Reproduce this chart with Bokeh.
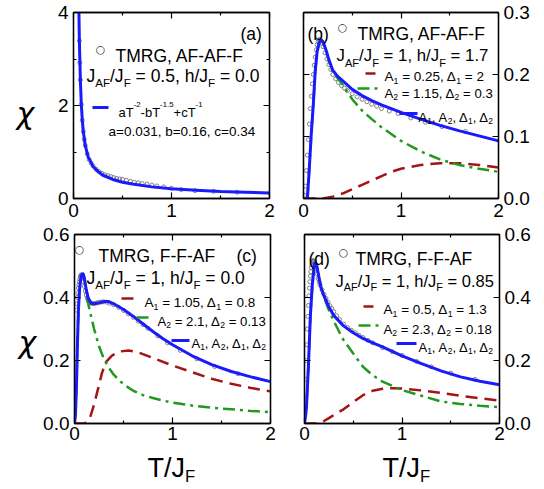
from bokeh.plotting import figure
from bokeh.models import (Range1d, LinearAxis, FixedTicker, Label, Arrow, CustomJSTickFormatter)
from bokeh.layouts import column, row
from bokeh.embed import file_html
from bokeh.resources import INLINE

FONT = "Liberation Sans"

# ---------------- data ----------------
x_ticks = [0, 1, 2]
x_minor = [0.5, 1.5]
x_tick_labels = ["0", "1", "2"]

ya_ticks = [0, 2, 4]
ya_minor = [1, 3]
ya_tick_labels = ["0", "2", "4"]
yb_ticks = [0, 0.1, 0.2, 0.3]
yb_tick_labels = ["0.0", "0.1", "0.2", "0.3"]
ycd_ticks = [0, 0.2, 0.4, 0.6]
ycd_tick_labels = ["0.0", "0.2", "0.4", "0.6"]

# panel (a)
T_tmrg_a = [0.05, 0.055, 0.06, 0.065, 0.07, 0.08, 0.09, 0.10, 0.11, 0.12, 0.14, 0.16, 0.18, 0.20,
            0.23, 0.26, 0.29, 0.32, 0.35, 0.38, 0.41, 0.44, 0.47, 0.50, 0.54, 0.58, 0.62, 0.66,
            0.70, 0.75, 0.80, 0.85, 0.92, 1.00, 1.10, 1.24, 1.43, 1.67, 2.0]
chi_tmrg_a = [4.9, 4.03, 3.39, 2.92, 2.55, 2.02, 1.68, 1.44, 1.27, 1.14, 0.96, 0.84, 0.76, 0.70,
              0.63, 0.58, 0.54, 0.51, 0.49, 0.47, 0.45, 0.43, 0.42, 0.41, 0.39, 0.37, 0.35, 0.34,
              0.32, 0.31, 0.29, 0.27, 0.25, 0.22, 0.19, 0.17, 0.155, 0.135, 0.12]
T_fit_a = [0.05, 0.055, 0.06, 0.07, 0.08, 0.09, 0.10, 0.12, 0.15, 0.20, 0.25, 0.30, 0.40, 0.50,
           0.60, 0.80, 1.00, 1.25, 1.50, 1.75, 2.00]
chi_fit_a = [4.9, 4.03, 3.39, 2.55, 2.02, 1.68, 1.44, 1.14, 0.89, 0.69, 0.58, 0.50, 0.41, 0.35,
             0.31, 0.25, 0.21, 0.18, 0.15, 0.135, 0.12]

# panel (b)
T_tmrg_b = [0.01, 0.02, 0.03, 0.04, 0.05, 0.06, 0.07, 0.08, 0.09, 0.10, 0.11, 0.12, 0.13, 0.14,
            0.15, 0.16, 0.17, 0.18, 0.19, 0.20, 0.22, 0.24, 0.26, 0.28, 0.30, 0.33, 0.36, 0.39,
            0.42, 0.45, 0.50, 0.55, 0.60, 0.65, 0.70, 0.75, 0.80, 0.88, 0.97, 1.10, 1.25, 1.42, 1.66]
chi_tmrg_b = [0.005, 0.02, 0.045, 0.07, 0.095, 0.12, 0.145, 0.165, 0.185, 0.20, 0.215, 0.228, 0.24,
              0.248, 0.253, 0.256, 0.256, 0.254, 0.25, 0.245, 0.235, 0.225, 0.216, 0.208, 0.20,
              0.193, 0.187, 0.182, 0.178, 0.174, 0.169, 0.164, 0.16, 0.156, 0.152, 0.149, 0.145,
              0.141, 0.137, 0.13, 0.123, 0.116, 0.108]
T_fit_b = [0.03, 0.04, 0.06, 0.08, 0.10, 0.12, 0.14, 0.16, 0.18, 0.20, 0.23, 0.26, 0.30, 0.35,
           0.40, 0.50, 0.60, 0.70, 0.80, 1.00, 1.20, 1.40, 1.60, 1.80, 2.00]
chi_fit_b = [0.0, 0.0, 0.05, 0.105, 0.15, 0.205, 0.237, 0.251, 0.256, 0.253, 0.24, 0.224, 0.207,
             0.197, 0.19, 0.176, 0.166, 0.158, 0.151, 0.139, 0.128, 0.118, 0.109, 0.101, 0.093]
chi_A2_b = [0.0, 0.0, 0.05, 0.105, 0.15, 0.205, 0.237, 0.251, 0.256, 0.253, 0.24, 0.222, 0.204,
            0.194, 0.184, 0.16, 0.142, 0.128, 0.115, 0.093, 0.076, 0.063, 0.054, 0.048, 0.043]
T_A1_b = [0.0, 0.2, 0.3, 0.4, 0.5, 0.6, 0.7, 0.8, 0.9, 1.0, 1.2, 1.4, 1.6, 1.8, 2.0]
chi_A1_b = [0.0, 0.0, 0.003, 0.008, 0.015, 0.022, 0.029, 0.036, 0.043, 0.048, 0.054, 0.057, 0.057,
            0.054, 0.050]

# panel (c)
T_tmrg_c = [0.02, 0.025, 0.03, 0.035, 0.04, 0.045, 0.05, 0.055, 0.06, 0.065, 0.07, 0.075, 0.08,
            0.09, 0.10, 0.11, 0.12, 0.13, 0.14, 0.15, 0.16, 0.18, 0.20, 0.22, 0.24, 0.26, 0.28,
            0.30, 0.33, 0.36, 0.40, 0.45, 0.50, 0.55, 0.60, 0.65, 0.70, 0.75, 0.85, 0.95, 1.08,
            1.25, 1.43, 1.67]
chi_tmrg_c = [0.36, 0.38, 0.40, 0.415, 0.43, 0.44, 0.45, 0.458, 0.465, 0.47, 0.472, 0.47, 0.465,
              0.45, 0.435, 0.42, 0.408, 0.398, 0.39, 0.386, 0.383, 0.381, 0.381, 0.382, 0.384,
              0.385, 0.386, 0.386, 0.385, 0.382, 0.377, 0.369, 0.359, 0.348, 0.337, 0.325, 0.314,
              0.302, 0.278, 0.256, 0.232, 0.205, 0.181, 0.158]
T_fit_c = [0.0, 0.01, 0.02, 0.03, 0.04, 0.05, 0.06, 0.07, 0.08, 0.09, 0.10, 0.12, 0.14, 0.17,
           0.20, 0.25, 0.30, 0.35, 0.40, 0.50, 0.60, 0.70, 0.80, 0.90, 1.00, 1.20, 1.40, 1.60,
           1.80, 2.00]
chi_fit_c = [0.0, 0.03, 0.12, 0.25, 0.36, 0.42, 0.45, 0.468, 0.476, 0.474, 0.462, 0.425, 0.398,
             0.382, 0.38, 0.383, 0.387, 0.387, 0.38, 0.362, 0.34, 0.316, 0.292, 0.27, 0.25, 0.215,
             0.187, 0.165, 0.148, 0.133]
chi_A2_c = [0.0, 0.03, 0.12, 0.25, 0.36, 0.42, 0.45, 0.468, 0.476, 0.474, 0.46, 0.42, 0.38, 0.34,
            0.30, 0.245, 0.205, 0.177, 0.155, 0.124, 0.104, 0.09, 0.081, 0.073, 0.066, 0.057,
            0.05, 0.045, 0.04, 0.036]
T_A1_c = [0.0, 0.10, 0.13, 0.16, 0.20, 0.24, 0.28, 0.32, 0.38, 0.45, 0.55, 0.65, 0.80, 1.00, 1.20,
          1.40, 1.60, 1.80, 2.00]
chi_A1_c = [0.0, 0.0, 0.005, 0.02, 0.06, 0.11, 0.16, 0.195, 0.215, 0.228, 0.232, 0.226, 0.208,
            0.184, 0.163, 0.142, 0.126, 0.113, 0.102]

# panel (d)
T_tmrg_d = [0.005, 0.01, 0.015, 0.02, 0.025, 0.03, 0.035, 0.04, 0.045, 0.05, 0.055, 0.06, 0.065,
            0.07, 0.075, 0.08, 0.085, 0.09, 0.095, 0.10, 0.11, 0.12, 0.13, 0.14, 0.15, 0.16, 0.18,
            0.20, 0.22, 0.24, 0.26, 0.28, 0.30, 0.33, 0.36, 0.40, 0.44, 0.48, 0.52, 0.56, 0.60,
            0.65, 0.70, 0.80, 0.90, 1.00, 1.15, 1.30, 1.50, 1.75]
chi_tmrg_d = [0.03, 0.08, 0.14, 0.20, 0.25, 0.30, 0.34, 0.375, 0.405, 0.43, 0.45, 0.468, 0.482,
              0.495, 0.505, 0.512, 0.516, 0.517, 0.515, 0.51, 0.503, 0.49, 0.475, 0.46, 0.45,
              0.44, 0.425, 0.41, 0.397, 0.385, 0.374, 0.365, 0.355, 0.342, 0.33, 0.316, 0.305,
              0.296, 0.288, 0.28, 0.273, 0.264, 0.256, 0.241, 0.228, 0.216, 0.197, 0.18, 0.16, 0.14]
T_fit_d = [0.0, 0.02, 0.04, 0.06, 0.08, 0.10, 0.11, 0.12, 0.13, 0.15, 0.17, 0.20, 0.25, 0.30,
           0.40, 0.50, 0.60, 0.70, 0.80, 1.00, 1.20, 1.40, 1.60, 1.80, 2.00]
chi_fit_d = [0.0, 0.05, 0.18, 0.34, 0.44, 0.50, 0.51, 0.508, 0.495, 0.46, 0.43, 0.405, 0.37,
             0.343, 0.31, 0.288, 0.27, 0.256, 0.243, 0.215, 0.19, 0.167, 0.148, 0.134, 0.123]
chi_A2_d = [0.0, 0.05, 0.18, 0.34, 0.44, 0.50, 0.51, 0.508, 0.495, 0.46, 0.43, 0.40, 0.36, 0.325,
            0.265, 0.222, 0.18, 0.153, 0.133, 0.106, 0.088, 0.07, 0.062, 0.056, 0.052]
T_A1_d = [0.0, 0.10, 0.15, 0.20, 0.25, 0.30, 0.35, 0.40, 0.50, 0.60, 0.70, 0.80, 0.90, 1.00, 1.20,
          1.40, 1.60, 1.80, 2.00]
chi_A1_d = [0.0, 0.0, 0.002, 0.008, 0.017, 0.027, 0.036, 0.045, 0.068, 0.09, 0.104, 0.11, 0.112,
            0.111, 0.105, 0.097, 0.088, 0.08, 0.073]

# ---------------- styling ----------------
BLUE = "#1a1aff"
RED = "#a31515"
GREEN = "#1f9a1f"
GRAY = "#666666"
BIG = 17.5
SMALL = 13.5

W = {" ": 278, ",": 278, ".": 278, "/": 278, "-": 333, "(": 333, ")": 333, "+": 584, "=": 584,
     "A": 667, "F": 611, "G": 778, "J": 500, "M": 833, "R": 722, "T": 611, "a": 556, "b": 556,
     "c": 500, "d": 556, "h": 556, "\u0394": 640}


def tw(s, fs):
    return sum(W.get(ch, 556) for ch in s) * fs / 1000.0


def text(p, x, y, txt, fs, align="left", baseline="alphabetic", color="black", font=FONT,
         style="normal"):
    p.add_layout(Label(x=x, y=y, x_units="screen", y_units="screen", text=txt,
                       text_font=font, text_font_size=f"{fs:.1f}px", text_color=color,
                       text_baseline=baseline, text_align=align, text_font_style=style))


def rich(p, fh, dx, dy, parts, size, sub_off=0.3, sub_scale=0.65, sup_off=0.6, sup_scale=0.6):
    x = dx
    for txt, kind in parts:
        if kind == "sub":
            fs, off = size * sub_scale, -size * sub_off
        elif kind == "sup":
            fs, off = size * sup_scale, size * sup_off
        else:
            fs, off = size, 0
        lead = len(txt) - len(txt.lstrip(" "))
        core = txt.strip(" ")
        trail = len(txt) - lead - len(core)
        x += tw(" " * lead, fs)
        text(p, x, fh - dy + off, core, fs)
        x += tw(core + " " * trail, fs)


def sample(p, fh, x0, x1, dy, color, width, dash):
    p.add_layout(Arrow(end=None, x_start=x0, x_end=x1, y_start=fh - dy, y_end=fh - dy,
                       start_units="screen", end_units="screen", line_color=color,
                       line_width=width, line_dash=dash))


def tmrg_key(p, fh, cx, tx, tdy, label):
    text(p, cx, fh - tdy + 6.5, "\u25cb", 11, align="center", baseline="middle",
         color="#333333", font="DejaVu Sans")
    rich(p, fh, tx, tdy, [(label, "n")], BIG)


def style_axis(ax, show, standoff=5):
    ax.axis_line_width = 1.3
    ax.axis_line_color = "black"
    ax.major_tick_in = 6
    ax.major_tick_out = 0
    ax.minor_tick_in = 3
    ax.minor_tick_out = 0
    ax.major_tick_line_width = 1.2
    ax.minor_tick_line_width = 1.2
    ax.major_tick_line_color = "black"
    ax.minor_tick_line_color = "black"
    ax.major_label_text_font = FONT
    ax.major_label_text_font_size = "19px"
    ax.major_label_text_color = "black"
    ax.major_label_standoff = standoff
    if not show:
        ax.formatter = CustomJSTickFormatter(code="return ''")
        ax.major_label_standoff = 0


def panel(ymax, fw, fh, bl, br, bt, bb, yt, ylab, ymin_t, yside, xstand):
    p = figure(frame_width=fw, frame_height=fh, x_range=Range1d(0, 2), y_range=Range1d(0, ymax),
               x_axis_location=None, y_axis_location=None, toolbar_location=None,
               output_backend="svg", min_border_left=bl, min_border_right=br,
               min_border_top=bt, min_border_bottom=bb)
    p.grid.grid_line_color = None
    p.outline_line_color = "black"
    p.outline_line_width = 1.3
    p.background_fill_color = "white"
    p.border_fill_color = "white"
    for side in ("below", "above"):
        ax = LinearAxis(ticker=FixedTicker(ticks=x_ticks, minor_ticks=x_minor))
        style_axis(ax, side == "below", xstand)
        if side == "below":
            ax.major_label_overrides = dict(zip(x_ticks, x_tick_labels))
        p.add_layout(ax, side)
    for side in ("left", "right"):
        ax = LinearAxis(ticker=FixedTicker(ticks=yt, minor_ticks=ymin_t))
        style_axis(ax, side == yside)
        if side == yside:
            ax.major_label_overrides = dict(zip(yt, ylab))
        p.add_layout(ax, side)
    return p


def strip(fw, fh):
    p = figure(frame_width=fw, frame_height=fh, x_range=Range1d(0, 1), y_range=Range1d(0, 1),
               x_axis_location=None, y_axis_location=None, toolbar_location=None,
               output_backend="svg", min_border=0)
    p.grid.grid_line_color = None
    p.outline_line_color = None
    p.background_fill_color = "white"
    p.border_fill_color = "white"
    return p


def curves(p, Tt, ct, T1, c1, Tf, c2, cf):
    p.scatter(Tt, ct, marker="circle", size=4, fill_color=None, line_color=GRAY, line_width=0.8)
    if T1 is not None:
        p.line(T1, c1, line_color=RED, line_width=2.5, line_dash="12 7")
        p.line(Tf, c2, line_color=GREEN, line_width=2.5, line_dash="12 5 3 5")
    p.line(Tf, cf, line_color=BLUE, line_width=3)


def sub_line(pre, post):
    return [("J", "n"), ("AF", "sub"), ("/J", "n"), ("F", "sub"), (pre, "n"), ("F", "sub"),
            (post, "n")]


def a_line(idx, mid, post):
    return [("A", "n"), (idx, "sub"), (mid, "n"), (idx, "sub"), (post, "n")]


COMB = [("A", "n"), ("1", "sub"), (", A", "n"), ("2", "sub"), (", \u0394", "n"), ("1", "sub"),
        (", \u0394", "n"), ("2", "sub")]

FW_L, FW_R = 196, 195
FH1, FH2 = 186, 189
BIGSUB = dict(sub_off=0.42, sub_scale=0.66)

# ---- (a)
pa = panel(4, FW_L, FH1, 33, 17, 12, 26, ya_ticks, ya_tick_labels, ya_minor, "left", 5)
curves(pa, T_tmrg_a, chi_tmrg_a, None, None, T_fit_a, None, chi_fit_a)
tmrg_key(pa, FH1, 27, 42, 43, "TMRG, AF-AF-F")
rich(pa, FH1, 167, 21, [("(a)", "n")], BIG)
rich(pa, FH1, 13, 63, sub_line(" = 0.5, h/J", " = 0.0"), BIG, **BIGSUB)
sample(pa, FH1, 19, 35, 95, BLUE, 3, "solid")
rich(pa, FH1, 45, 100, [("aT", "n"), ("-2", "sup"), ("-bT", "n"), ("-1.5", "sup"), ("+cT", "n"),
                        ("-1", "sup")], 13)
rich(pa, FH1, 35, 119, [("a=0.031, b=0.16, c=0.34", "n")], SMALL)

# ---- (b)
pb = panel(0.3, FW_R, FH1, 17, 44, 12, 26, yb_ticks, yb_tick_labels, [], "right", 5)
curves(pb, T_tmrg_b, chi_tmrg_b, T_A1_b, chi_A1_b, T_fit_b, chi_A2_b, chi_fit_b)
tmrg_key(pb, FH1, 39, 54, 21, "TMRG, AF-AF-F")
rich(pb, FH1, 4, 21, [("(b)", "n")], BIG)
rich(pb, FH1, 33, 43, sub_line(" = 1, h/J", " = 1.7"), 16.8, **BIGSUB)
sample(pb, FH1, 62, 72, 61, RED, 2.5, "12 7")
rich(pb, FH1, 81, 64, a_line("1", " = 0.25, \u0394", " = 2"), SMALL)
sample(pb, FH1, 54, 77, 76, GREEN, 2.5, "12 5 3 5")
rich(pb, FH1, 81, 81, a_line("2", " = 1.15, \u0394", " = 0.3"), 13.2)
sample(pb, FH1, 96, 114, 101, BLUE, 3, "solid")
rich(pb, FH1, 115, 105, COMB, 13)

# ---- (c)
pc = panel(0.6, FW_L, FH2, 33, 17, 10, 25, ycd_ticks, ycd_tick_labels, [], "left", 3)
curves(pc, T_tmrg_c, chi_tmrg_c, T_A1_c, chi_A1_c, T_fit_c, chi_A2_c, chi_fit_c)
tmrg_key(pc, FH2, 5, 24, 21, "TMRG, F-F-AF")
rich(pc, FH2, 162, 21, [("(c)", "n")], BIG)
rich(pc, FH2, 12, 43, sub_line(" = 1, h/J", " = 0.0"), BIG, **BIGSUB)
sample(pc, FH2, 47, 60, 64, RED, 2.5, "12 7")
rich(pc, FH2, 70, 68, a_line("1", " = 1.05, \u0394", " = 0.8"), SMALL)
sample(pc, FH2, 62, 79, 83, GREEN, 2.5, "12 5 3 5")
rich(pc, FH2, 83, 87, a_line("2", " = 2.1, \u0394", " = 0.13"), 13.2)
sample(pc, FH2, 97, 115, 106, BLUE, 3, "solid")
rich(pc, FH2, 117, 109, COMB, 13)

# ---- (d)
pd_ = panel(0.6, FW_R, FH2, 17, 44, 10, 25, ycd_ticks, ycd_tick_labels, [], "right", 3)
curves(pd_, T_tmrg_d, chi_tmrg_d, T_A1_d, chi_A1_d, T_fit_d, chi_A2_d, chi_fit_d)
tmrg_key(pd_, FH2, 39, 51, 24, "TMRG, F-F-AF")
rich(pd_, FH2, 4, 24, [("(d)", "n")], BIG)
rich(pd_, FH2, 31, 46, sub_line(" = 1, h/J", " = 0.85"), 16.5, **BIGSUB)
sample(pd_, FH2, 59, 69, 72, RED, 2.5, "12 7")
rich(pd_, FH2, 79, 75, a_line("1", " = 0.5, \u0394", " = 1.3"), SMALL)
sample(pd_, FH2, 54, 74, 91, GREEN, 2.5, "12 5 3 5")
rich(pd_, FH2, 79, 95, a_line("2", " = 2.3, \u0394", " = 0.18"), 13.2)
sample(pd_, FH2, 92, 112, 109, BLUE, 3, "solid")
rich(pd_, FH2, 114, 113, COMB, 13)

# ---- axis titles (strips outside the frames)
STRIP_H = 40
TOTAL_H = 12 + FH1 + 26 + 10 + FH2 + 25 + STRIP_H
chi_strip = strip(40, TOTAL_H)
text(chi_strip, 25, TOTAL_H - 113, "\u03c7", 30, align="center", font="DejaVu Sans",
     style="italic")
text(chi_strip, 27, TOTAL_H - 342, "\u03c7", 30, align="center", font="DejaVu Sans",
     style="italic")

tj_c = strip(33 + FW_L + 17, STRIP_H)
rich(tj_c, STRIP_H, 107, 19, [("T/J", "n"), ("F", "sub")], 27, sub_off=0.33, sub_scale=0.62)
tj_d = strip(17 + FW_R + 44, STRIP_H)
rich(tj_d, STRIP_H, 96, 19, [("T/J", "n"), ("F", "sub")], 27, sub_off=0.33, sub_scale=0.62)

layout = row(chi_strip, column(row(pa, pb), row(pc, pd_), row(tj_c, tj_d)))
open("out.html", "w").write(file_html(layout, INLINE))
